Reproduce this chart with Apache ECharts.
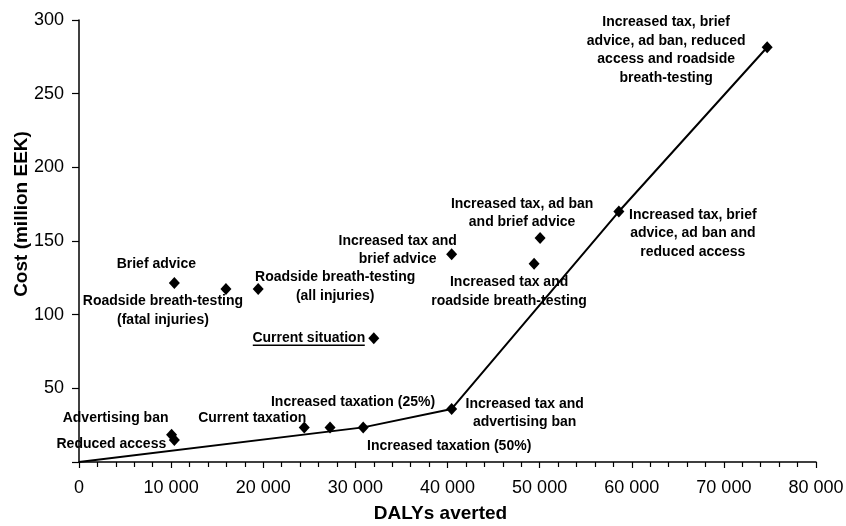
<!DOCTYPE html>
<html>
<head>
<meta charset="utf-8">
<script src="https://cdn.jsdelivr.net/npm/echarts@6/dist/echarts.min.js"></script>
<style>
html,body{margin:0;padding:0;background:#fff;}
#chart{width:846px;height:526px;}
</style>
</head>
<body>
<div id="chart"></div>
<script>
// ---- data ----
const categories = [
  'Reduced access',
  'Advertising ban',
  'Brief advice',
  'Roadside breath-testing\n(fatal injuries)',
  'Roadside breath-testing\n(all injuries)',
  'Current taxation',
  'Increased taxation (25%)',
  'Increased taxation (50%)',
  'Current situation',
  'Increased tax and\nadvertising ban',
  'Increased tax and\nbrief advice',
  'Increased tax and\nroadside breath-testing',
  'Increased tax, ad ban\nand brief advice',
  'Increased tax, brief\nadvice, ad ban and\nreduced access',
  'Increased tax, brief\nadvice, ad ban, reduced\naccess and roadside\nbreath-testing'
];
const dalysAverted = [10350, 10050, 10350, 15950, 19450, 24450, 27250, 30850, 32000, 40450, 40450, 49400, 50050, 58600, 74700];
const costMillionEEK = [15, 18.5, 121.5, 117.5, 117.5, 23.5, 23.5, 23.5, 84, 36, 141, 134.5, 152, 170, 281.5];
const frontierDalys = [0, 30850, 40450, 58600, 74700];
const frontierCost = [0, 23.5, 36, 170, 281.5];
const xTicks = [0, 10000, 20000, 30000, 40000, 50000, 60000, 70000, 80000];
const yTicks = [0, 50, 100, 150, 200, 250, 300];

// ---- styling (label offsets in pixels from each marker) ----
const labelOffsets = [
  [-63, 4], [-56, -17], [-18, -19], [-63, 22], [77, -2],
  [-52, -9], [23, -25], [86, 19], [-65, 0], [73, 4],
  [-54, -4], [-25, 28], [-18, -25], [74, 22], [-101, 3]
];

const font = '"Liberation Sans", Arial, sans-serif';
const chart = echarts.init(document.getElementById('chart'), null, {renderer: 'canvas'});

const scatterData = categories.map((c, i) => ({
  name: c,
  value: [dalysAverted[i], costMillionEEK[i]],
  label: {offset: labelOffsets[i]}
}));

const fmtThousands = v => {
  if (v === 0) return '0';
  return String(v).replace(/\B(?=(\d{3})+(?!\d))/g, ' ');
};

chart.setOption({
  animation: false,
  backgroundColor: '#fff',
  grid: {left: 79, right: 30, top: 20, bottom: 64, containLabel: false, outerBoundsMode: 'none'},
  xAxis: {
    type: 'value',
    min: xTicks[0], max: xTicks[xTicks.length - 1], interval: xTicks[1] - xTicks[0],
    name: 'DALYs averted', nameLocation: 'middle', nameGap: 42,
    nameTextStyle: {fontFamily: font, fontWeight: 'bold', fontSize: 19, color: '#000', padding: [0, 14, 0, 0]},
    axisLine: {show: true, onZero: false, lineStyle: {color: '#000', width: 1.5}},
    axisTick: {show: true, length: 6, lineStyle: {color: '#000', width: 1.2}},
    minorTick: {show: true, splitNumber: 5, length: 5, lineStyle: {color: '#000', width: 1.2}},
    axisLabel: {fontFamily: font, fontSize: 18, color: '#000', margin: 17, formatter: fmtThousands},
    splitLine: {show: false}
  },
  yAxis: {
    type: 'value',
    min: yTicks[0], max: yTicks[yTicks.length - 1], interval: yTicks[1] - yTicks[0],
    name: 'Cost (million EEK)', nameLocation: 'middle', nameGap: 48, nameMoveOverlap: false,
    nameTextStyle: {fontFamily: font, fontWeight: 'bold', fontSize: 19, color: '#000', padding: [0, 0, 0, 54]},
    axisLine: {show: true, lineStyle: {color: '#000', width: 1.5}},
    axisTick: {show: true, length: 7, lineStyle: {color: '#000', width: 1.2}},
    axisLabel: {fontFamily: font, fontSize: 18, color: '#000', margin: 15,
      formatter: v => (v === 0 ? '' : String(v))},
    splitLine: {show: false}
  },
  series: [
    {
      type: 'line',
      data: frontierDalys.map((x, i) => [x, frontierCost[i]]),
      showSymbol: false,
      symbol: 'none',
      lineStyle: {color: '#000', width: 2},
      z: 2
    },
    {
      type: 'scatter',
      data: scatterData,
      symbol: 'diamond',
      symbolSize: [11, 12],
      itemStyle: {color: '#000', opacity: 1},
      label: {
        show: true,
        position: 'inside',
        formatter: p => p.name,
        fontFamily: font,
        fontWeight: 'bold',
        fontSize: 14,
        lineHeight: 18.5,
        color: '#000',
        opacity: 1,
        align: 'center',
        verticalAlign: 'middle'
      },
      emphasis: {disabled: true},
      z: 3
    }
  ]
});

// underline for "Current situation"
const idx = categories.indexOf('Current situation');
const p = chart.convertToPixel({gridIndex: 0}, [dalysAverted[idx], costMillionEEK[idx]]);
chart.setOption({
  graphic: [{
    type: 'line',
    shape: {x1: p[0] - 121, y1: p[1] + 7, x2: p[0] - 9, y2: p[1] + 7},
    style: {stroke: '#000', lineWidth: 1.3},
    z: 10
  }]
});
</script>
</body>
</html>
